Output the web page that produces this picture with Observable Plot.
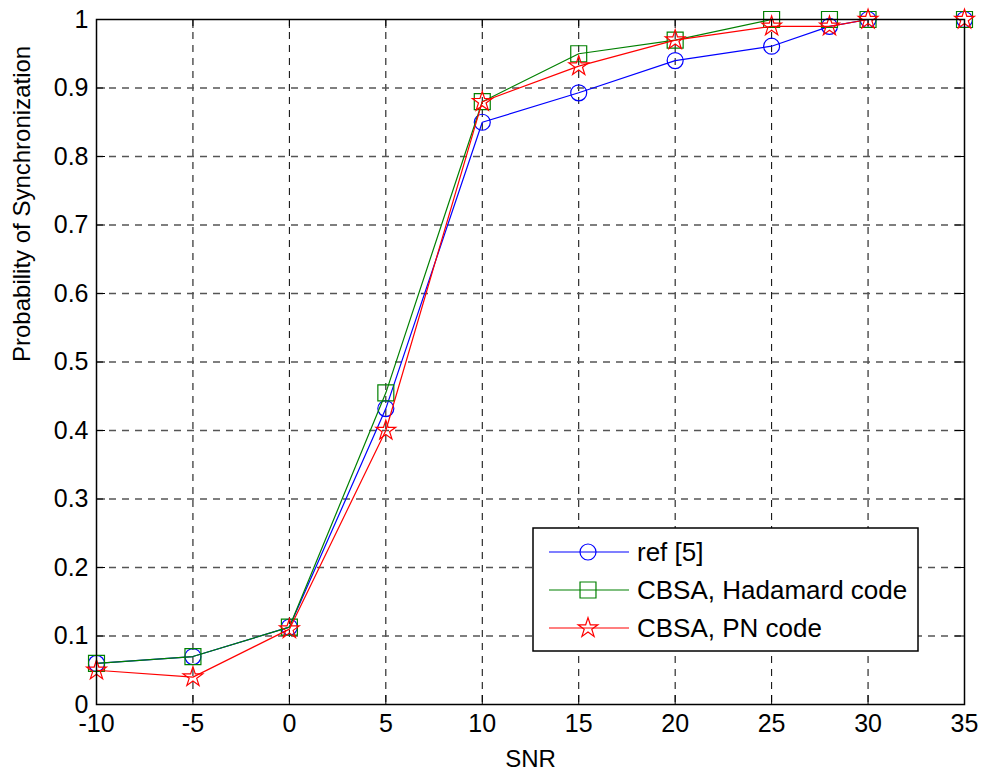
<!DOCTYPE html>
<html>
<head>
<meta charset="utf-8">
<script src="https://cdn.jsdelivr.net/npm/d3@7"></script>
<script src="https://cdn.jsdelivr.net/npm/@observablehq/plot@0.6"></script>
<style>
  html, body { margin: 0; padding: 0; background: #fff; }
  #chart svg { display: block; }
</style>
</head>
<body>
<div id="chart"></div>
<script>
// ---- data ----
const snr = [-10, -5, 0, 5, 10, 15, 20, 25, 28, 30, 35];
const ref5 = [0.06, 0.07, 0.113, 0.432, 0.85, 0.893, 0.94, 0.961, 0.99, 1, 1];
const hadamard = [0.06, 0.07, 0.113, 0.455, 0.88, 0.95, 0.97, 1, 1, 1, 1];
const pn = [0.05, 0.04, 0.11, 0.40, 0.88, 0.932, 0.97, 0.99, 0.99, 1, 1];
const seriesNames = ["ref [5]", "CBSA, Hadamard code", "CBSA, PN code"];
const seriesColors = ["#0000ff", "#008000", "#ff0000"];
const seriesSymbols = ["circle", "square", "star"];
const xTicks = [-10, -5, 0, 5, 10, 15, 20, 25, 30, 35];
const yTicks = [0, 0.1, 0.2, 0.3, 0.4, 0.5, 0.6, 0.7, 0.8, 0.9, 1];
const xLabel = "SNR";
const yLabel = "Probability of Synchronization";

const seriesValues = [ref5, hadamard, pn];
const rows = seriesValues.map((vals, i) => snr.map((x, j) => ({x, y: vals[j], s: seriesNames[i]})));

const W = 981, H = 770;
const mL = 96, mR = 17, mT = 19, mB = 66;
const innerH = H - mT - mB, innerW = W - mL - mR;
const tickLen = 9;
const font = "'Liberation Sans', Arial, Helvetica, sans-serif";
const dotR = [8, 9, 6.2];

const marks = [
  Plot.gridX(xTicks, {stroke: "#000", strokeOpacity: 1, strokeDasharray: "7,6", strokeWidth: 1}),
  Plot.gridY(yTicks.slice(1, -1), {stroke: "#555", strokeOpacity: 1, strokeDasharray: "7,6", strokeWidth: 1.3}),
  Plot.tickX(xTicks, {stroke: "#000", insetTop: innerH - tickLen}),
  Plot.tickX(xTicks, {stroke: "#000", insetBottom: innerH - tickLen}),
  Plot.tickY(yTicks, {stroke: "#000", insetLeft: 0, insetRight: innerW - tickLen}),
  Plot.tickY(yTicks, {stroke: "#000", insetRight: 0, insetLeft: innerW - tickLen}),
  Plot.axisX(xTicks, {tickSize: 0, tickPadding: 10, fontSize: 25, tickFormat: d => String(d), label: null}),
  Plot.axisY(yTicks, {tickSize: 0, tickPadding: 8, fontSize: 25, tickFormat: d => d === 0 || d === 1 ? String(d) : d.toFixed(1), label: null}),
  Plot.text([xLabel], {frameAnchor: "bottom", dy: 62, fontSize: 24, text: d => d}),
  Plot.text([yLabel], {frameAnchor: "left", dx: -74, rotate: -90, fontSize: 24, text: d => d}),
];
rows.forEach((data, i) => {
  marks.push(Plot.line(data, {x: "x", y: "y", stroke: seriesColors[i], strokeWidth: 1.2}));
  marks.push(Plot.dot(data, {x: "x", y: "y", stroke: seriesColors[i], symbol: seriesSymbols[i], r: dotR[i], strokeWidth: 1.2, fill: "none"}));
});
marks.push(Plot.frame({stroke: "#000", strokeWidth: 1.5}));

const plot = Plot.plot({
  width: W, height: H,
  marginLeft: mL, marginRight: mR, marginTop: mT, marginBottom: mB,
  style: {fontFamily: font, fontSize: "24px", color: "#000", background: "#fff"},
  x: {domain: [-10, 35], ticks: xTicks},
  y: {domain: [0, 1], ticks: yTicks},
  marks
});
document.getElementById("chart").appendChild(plot);

// ---- legend (inside the axes box, lower right) ----
const svg = d3.select(plot);
const lg = svg.append("g").attr("font-family", font).attr("font-size", 26).attr("text-anchor", "start");
const box = {x: 533, y: 528, w: 385, h: 123};
lg.append("rect").attr("x", box.x).attr("y", box.y).attr("width", box.w).attr("height", box.h)
  .attr("fill", "#fff").attr("stroke", "#000").attr("stroke-width", 1.5);
const rowY = [552, 590, 628];
const symMap = {circle: d3.symbolCircle, square: d3.symbolSquare, star: d3.symbolStar};
seriesNames.forEach((name, i) => {
  const y = rowY[i];
  lg.append("line").attr("x1", 549).attr("x2", 629).attr("y1", y).attr("y2", y)
    .attr("stroke", seriesColors[i]).attr("stroke-width", 1.2);
  lg.append("path").attr("transform", `translate(588,${y})`)
    .attr("d", d3.symbol(symMap[seriesSymbols[i]], Math.PI * dotR[i] * dotR[i])())
    .attr("fill", "none").attr("stroke", seriesColors[i]).attr("stroke-width", 1.2);
  lg.append("text").attr("x", 637).attr("y", y).attr("dy", "0.35em").attr("text-anchor", "start").text(name);
});
</script>
</body>
</html>
